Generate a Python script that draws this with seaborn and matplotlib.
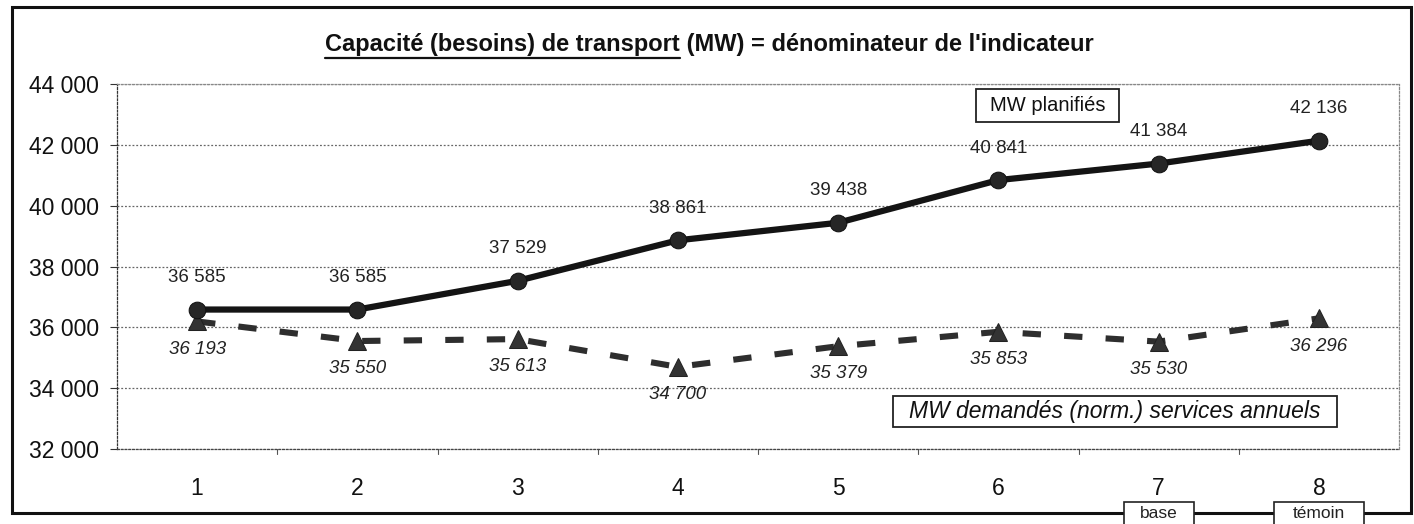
import matplotlib
matplotlib.use("Agg")
import matplotlib.pyplot as plt
import seaborn as sns
import pandas as pd
from matplotlib.patches import Rectangle
from matplotlib.lines import Line2D

# ---- data ----
periods = [1, 2, 3, 4, 5, 6, 7, 8]
mw_planifies = [36585, 36585, 37529, 38861, 39438, 40841, 41384, 42136]
mw_demandes = [36193, 35550, 35613, 34700, 35379, 35853, 35530, 36296]
y_ticks = [32000, 34000, 36000, 38000, 40000, 42000, 44000]
title_underlined = "Capacité (besoins) de transport"
title_rest = " (MW) = dénominateur de l'indicateur"
label_planned = "MW planifiés"
label_demand = "MW demandés (norm.) services annuels"
below_labels = {7: "base", 8: "témoin"}

W, H = 1414, 524

def fmt(v):
    return f"{v:,}".replace(",", " ")

def fx(px):
    return px / W

def fy(py):
    return 1 - py / H

sns.set_theme(style="white")
plt.rcParams['font.family'] = ['Liberation Sans', 'DejaVu Sans']

df = pd.DataFrame({"period": periods, "planned": mw_planifies, "demand": mw_demandes})

fig = plt.figure(figsize=(W / 100, H / 100), dpi=100)
ax = fig.add_axes([fx(117), fy(449), fx(1399) - fx(117), fy(84) - fy(449)])

sns.lineplot(data=df, x="period", y="demand", ax=ax, color="#2e2e2e",
             linewidth=4.4, linestyle=(0, (3.0, 3.8)), marker="^", markersize=13,
             markeredgecolor="#222222", markerfacecolor="#333333", zorder=3)
sns.lineplot(data=df, x="period", y="planned", ax=ax, color="#141414",
             linewidth=4.5, marker="o", markersize=12,
             markeredgecolor="#111111", markerfacecolor="#262626", zorder=4)

ax.set_xlim(0.5, 8.5)
ax.set_ylim(32000, 44000)
ax.set_yticks(y_ticks)
ax.set_yticklabels([fmt(v) for v in y_ticks], fontsize=16.5, color="#111111")
ax.set_xticks(periods)
ax.set_xticklabels([str(p) for p in periods], fontsize=16.5, color="#111111")
ax.set_xlabel("")
ax.set_ylabel("")
ax.grid(axis="y", color="#666666", linestyle=(0, (1.5, 1.5)), linewidth=0.9)
ax.grid(axis="x", visible=False)
for s in ax.spines.values():
    s.set_visible(True)
    s.set_color("#888888")
    s.set_linestyle((0, (1.5, 1.5)))
    s.set_linewidth(0.9)
ax.spines["left"].set_color("#333333")
ax.spines["bottom"].set_color("#444444")
ax.tick_params(axis="y", length=5, width=0.8, color="#333333", left=True, pad=8)
ax.tick_params(axis="x", length=0, pad=20)
# small ticks at category boundaries
for xb in [1.5, 2.5, 3.5, 4.5, 5.5, 6.5, 7.5]:
    ax.plot([xb, xb], [0, -0.015], transform=ax.get_xaxis_transform(),
            color="#555555", lw=0.8, clip_on=False)

for x, v in zip(periods, mw_planifies):
    ax.annotate(fmt(v), (x, v), xytext=(0, 23), textcoords="offset points",
                ha="center", va="center", fontsize=13.5, color="#222222")
for x, v in zip(periods, mw_demandes):
    ax.annotate(fmt(v), (x, v), xytext=(0, -20), textcoords="offset points",
                ha="center", va="center", fontsize=13.5, color="#222222", style="italic")

# legend-like boxes inside the plot
def boxed_label(x0, x1, y0, y1, text, size, italic=False):
    fig.add_artist(Rectangle((fx(x0), fy(y1)), fx(x1) - fx(x0), fy(y0) - fy(y1),
                             transform=fig.transFigure, fc="white", ec="#222222",
                             lw=1.3, zorder=5))
    fig.text(fx((x0 + x1) / 2), fy((y0 + y1) / 2), text, ha="center", va="center",
             fontsize=size, color="#111111", style="italic" if italic else "normal",
             zorder=6)

boxed_label(976, 1119, 89, 122, label_planned, 14.5)
boxed_label(893, 1337, 396, 427, label_demand, 16.5, italic=True)

# title with underlined part
ty = fy(45)
t1 = fig.text(fx(325), ty, title_underlined, ha="left", va="center",
              fontsize=17, fontweight="bold", color="#111111")
fig.canvas.draw()
r = fig.canvas.get_renderer()
bb1 = t1.get_window_extent(r)
fig.text(fx(325) + bb1.width / W, ty, title_rest, ha="left", va="center",
         fontsize=17, fontweight="bold", color="#111111")
fig.add_artist(Line2D([fx(325), fx(325) + bb1.width / W], [fy(58), fy(58)],
                      transform=fig.transFigure, color="#111111", lw=1.6))

# outer frame
fig.add_artist(Rectangle((fx(12), fy(513)), fx(1411) - fx(12), fy(7) - fy(513),
                         transform=fig.transFigure, fill=False, ec="#111111", lw=2.2,
                         zorder=1))

# boxes below axis (base / témoin)
widths = {7: 70, 8: 90}
for p, lab in below_labels.items():
    xc = ax.transData.transform((p, 0))[0]
    w = widths[p]
    fig.add_artist(Rectangle((fx(xc - w / 2), fy(530)), w / W, fy(502) - fy(530),
                             transform=fig.transFigure, fc="white", ec="#222222",
                             lw=1.2, zorder=5))
    fig.text(fx(xc), fy(514), lab, ha="center", va="center", fontsize=12.5,
             color="#222222", zorder=6)

fig.savefig("out.png", dpi=100, facecolor="white")
